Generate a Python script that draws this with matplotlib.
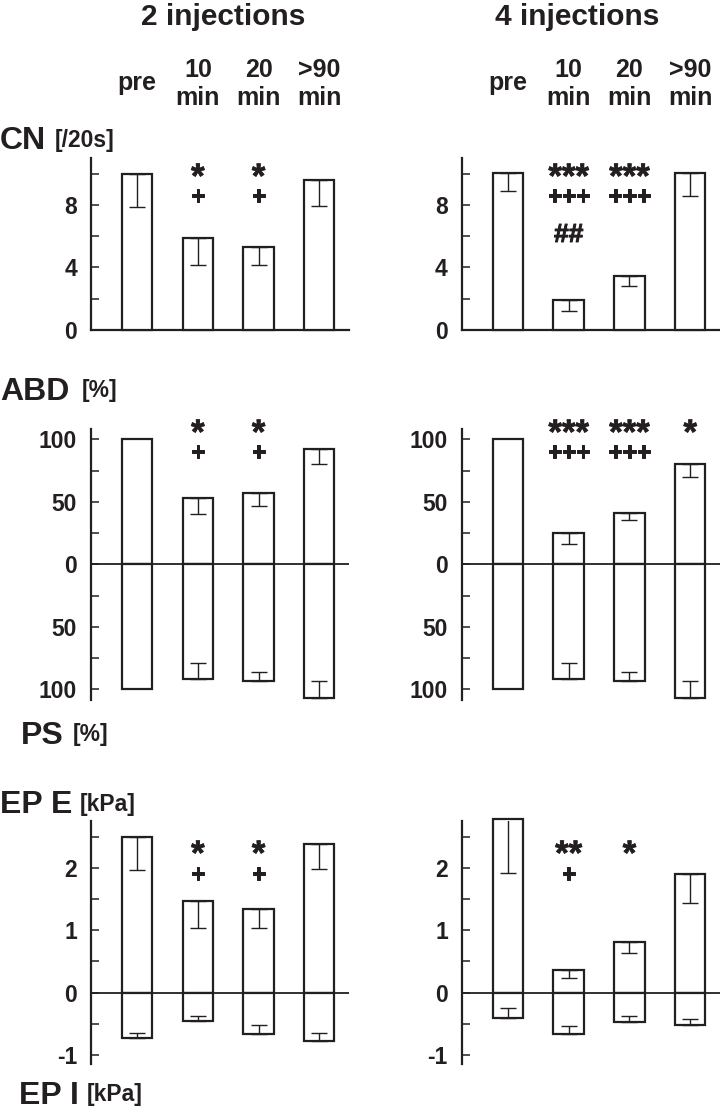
import matplotlib
matplotlib.use("Agg")
import matplotlib.pyplot as plt
import matplotlib.patheffects as pe
from matplotlib.transforms import blended_transform_factory
import numpy as np

plt.rcParams['font.family'] = ['Liberation Sans', 'DejaVu Sans']
plt.rcParams['font.weight'] = 'bold'

W, H = 720, 1112
conditions = ["pre", "10\nmin", "20\nmin", ">90\nmin"]
groups = ["2 injections", "4 injections"]

# CN [/20s]: means and SEM (lower error bars)
cn_2_mean = [10.0, 5.87, 5.33, 9.58]
cn_2_sem = [2.13, 1.73, 1.19, 1.66]
cn_4_mean = [10.07, 1.92, 3.46, 10.07]
cn_4_sem = [1.15, 0.68, 0.64, 1.49]

# ABD [%] (up) and PS [%] (down)
abd_2_mean = [100, 53.3, 56.8, 92.2]
abd_2_sem = [0, 12.8, 10.2, 12.0]
ps_2_mean = [100, 91.8, 93.4, 107.2]
ps_2_sem = [0, 12.6, 7.0, 13.6]
abd_4_mean = [100, 24.8, 41.0, 80.0]
abd_4_sem = [0, 8.5, 5.6, 10.4]
ps_4_mean = [100, 91.8, 93.4, 107.2]
ps_4_sem = [0, 12.6, 7.0, 13.6]

# EP E [kPa] (up) and EP I [kPa] (down)
epe_2_mean = [2.50, 1.47, 1.34, 2.39]
epe_2_sem = [0.53, 0.43, 0.30, 0.40]
epi_2_mean = [-0.73, -0.45, -0.66, -0.77]
epi_2_sem = [0.08, 0.07, 0.14, 0.12]
epe_4_mean = [2.79, 0.36, 0.81, 1.91]
epe_4_sem = [0.87, 0.12, 0.17, 0.47]
epi_4_mean = [-0.41, -0.67, -0.47, -0.52]
epi_4_sem = [0.16, 0.13, 0.10, 0.10]

# significance marks
cn_2_sig = [["", ""], ["*", "+"], ["*", "+"], ["", ""]]
cn_4_sig = [["", "", ""], ["***", "+++", "##"], ["***", "+++", ""], ["", "", ""]]
abd_2_sig = [["", ""], ["*", "+"], ["*", "+"], ["", ""]]
abd_4_sig = [["", ""], ["***", "+++"], ["***", "+++"], ["*", ""]]
ep_2_sig = [["", ""], ["*", "+"], ["*", "+"], ["", ""]]
ep_4_sig = [["", ""], ["**", "+"], ["*", ""], ["", ""]]

INK = '#231f20'
fig = plt.figure(figsize=(W / 100, H / 100), dpi=100)


def add_ax(x0, x1, ytop, ybot):
    return fig.add_axes([x0 / W, 1 - ybot / H, (x1 - x0) / W, (ybot - ytop) / H])


def fy(y):
    return 1 - y / H


xpos = np.arange(4)
LEFT_X = [(91, 349), (461.7, 720)]
BAR_W = 0.5


def style(ax, ylim, ticks, labels, minor):
    ax.set_xlim(-0.76, 3.49)
    ax.set_ylim(*ylim)
    for s in ['top', 'right']:
        ax.spines[s].set_visible(False)
    ax.spines['left'].set_linewidth(1.6)
    ax.spines['left'].set_color(INK)
    ax.set_xticks([])
    ax.set_yticks(ticks)
    ax.set_yticklabels(labels)
    ax.set_yticks(minor, minor=True)
    ax.tick_params(axis='y', which='both', direction='in', length=6, width=1.1,
                   colors=INK, labelsize=16.5, pad=10)
    for t in ax.get_yticklabels():
        t.set_fontweight('bold')


def bars(ax, mean, sem, sign=1):
    mean = np.asarray(mean, float)
    sem = np.asarray(sem, float)
    ax.bar(xpos, mean, width=BAR_W, facecolor='white', edgecolor=INK,
           linewidth=1.6, zorder=3, clip_on=False)
    has = sem > 0
    if sign > 0:
        yerr = [sem[has], np.zeros(has.sum())]
    else:
        yerr = [np.zeros(has.sum()), sem[has]]
    ax.errorbar(xpos[has], mean[has], yerr=yerr, fmt='none', ecolor=INK,
                elinewidth=1.0, capsize=5.5, capthick=1.0, zorder=4)


THIN = [pe.withStroke(linewidth=0.5, foreground=INK)]
MID = [pe.withStroke(linewidth=0.7, foreground=INK)]


def sig(ax, marks, ys):
    tr = blended_transform_factory(ax.transData, fig.transFigure)
    for i, mk in enumerate(marks):
        for s, y in zip(mk, ys):
            if not s:
                continue
            if s.startswith('*'):
                ax.text(i, fy(y + 6), s, transform=tr, ha='center', va='center',
                        fontsize=25, fontweight='bold', color=INK, path_effects=THIN)
            elif s.startswith('+'):
                ax.text(i, fy(y), s, transform=tr, ha='center', va='center',
                        fontsize=17.5, fontweight='bold', color=INK, path_effects=MID)
            else:
                ax.text(i, fy(y), s, transform=tr, ha='center', va='center',
                        fontsize=19, fontweight='bold', color=INK, path_effects=MID)


# headers
fig.text(223 / W, fy(17), groups[0], ha='center', va='center', fontsize=21.5, fontweight='bold', color=INK)
fig.text(577 / W, fy(17), groups[1], ha='center', va='center', fontsize=21.5, fontweight='bold', color=INK)

# CN
for (x0, x1), m, s, sg in zip(LEFT_X, [cn_2_mean, cn_4_mean], [cn_2_sem, cn_4_sem],
                              [cn_2_sig, cn_4_sig]):
    ax = add_ax(x0, x1, 158, 330)
    style(ax, (0, 11.0), [0, 4, 8], ['0', '4', '8'], [2, 6, 10])
    ax.spines['bottom'].set_linewidth(1.6)
    ax.spines['bottom'].set_color(INK)
    bars(ax, m, s, 1)
    sig(ax, sg, [172, 197, 235])
    tr = blended_transform_factory(ax.transData, fig.transFigure)
    for i, c in enumerate(conditions):
        if '\n' in c:
            a, b = c.split('\n')
            ax.text(i, fy(70), a, transform=tr, ha='center', va='center', fontsize=18, fontweight='bold', color=INK)
            ax.text(i, fy(98), b, transform=tr, ha='center', va='center', fontsize=18, fontweight='bold', color=INK)
        else:
            ax.text(i, fy(83), c, transform=tr, ha='center', va='center', fontsize=18, fontweight='bold', color=INK)

# ABD / PS
for (x0, x1), mu, su, md, sd, sg in zip(LEFT_X, [abd_2_mean, abd_4_mean], [abd_2_sem, abd_4_sem],
                                        [ps_2_mean, ps_4_mean], [ps_2_sem, ps_4_sem],
                                        [abd_2_sig, abd_4_sig]):
    ax = add_ax(x0, x1, 429.3, 700)
    style(ax, (-108.5, 108), [-100, -50, 0, 50, 100], ['100', '50', '0', '50', '100'], [-75, -25, 25, 75])
    ax.spines['bottom'].set_visible(False)
    ax.axhline(0, color=INK, linewidth=1.3, zorder=5)
    bars(ax, mu, su, 1)
    bars(ax, -np.asarray(md), sd, -1)
    sig(ax, sg, [428, 453])

# EP E / EP I
for (x0, x1), mu, su, md, sd, sg in zip(LEFT_X, [epe_2_mean, epe_4_mean], [epe_2_sem, epe_4_sem],
                                        [epi_2_mean, epi_4_mean], [epi_2_sem, epi_4_sem],
                                        [ep_2_sig, ep_4_sig]):
    ax = add_ax(x0, x1, 821.1, 1063.8)
    style(ax, (-1.14, 2.75), [-1, 0, 1, 2], ['-1', '0', '1', '2'], [-0.5, 0.5, 1.5, 2.5])
    ax.spines['bottom'].set_visible(False)
    ax.axhline(0, color=INK, linewidth=1.3, zorder=5)
    bars(ax, mu, su, 1)
    bars(ax, md, sd, -1)
    sig(ax, sg, [849, 875])


# panel labels
def label(x, y, big, small, dx):
    fig.text(x / W, fy(y), big, ha='left', va='center', fontsize=23, fontweight='bold', color=INK)
    fig.text((x + dx) / W, fy(y - 1), small, ha='left', va='center', fontsize=16.5, fontweight='bold', color=INK)


label(0, 141, "CN", "[/20s]", 55)
label(0, 392, "ABD", "[%]", 82)
label(21, 736, "PS", "[%]", 52)
label(0, 805, "EP E", "[kPa]", 80)
label(19, 1096, "EP I", "[kPa]", 68)

fig.savefig("out.png", dpi=100, facecolor='white')
